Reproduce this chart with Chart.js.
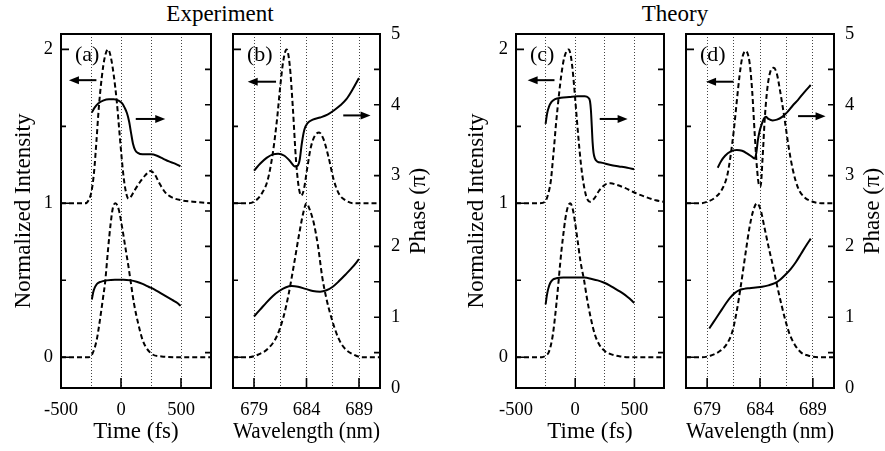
<!DOCTYPE html>
<html>
<head>
<meta charset="UTF-8">
<title>Experiment / Theory</title>
<script src="https://cdn.jsdelivr.net/npm/chart.js"></script>
<style>
  body { margin: 0; background: #fff; width: 885px; height: 451px; overflow: hidden; position: relative; font-family: "Liberation Serif", "Times New Roman", serif; }
  .head { position: absolute; top: 0; font-size: 23px; line-height: 28px; text-align: center; color: #000; }
  canvas { position: absolute; top: 0; }
</style>
</head>
<body>
<div class="head" style="left:0;width:440px">Experiment</div>
<div class="head" style="left:465px;width:420px">Theory</div>
<canvas id="pa" width="222" height="451" style="left:0px"></canvas>
<canvas id="pb" width="218" height="451" style="left:222px"></canvas>
<canvas id="pc" width="235" height="451" style="left:440px"></canvas>
<canvas id="pd" width="210" height="451" style="left:675px"></canvas>

<script>
// tick positions / labels
const timeGrid = [-500, -250, 0, 250, 500, 750];
const timeLabels = [-500, 0, 500];
const waveGrid = [677, 679, 681.5, 684, 686.5, 689, 691];
const waveLabels = [679, 684, 689];
const intensityTicks = [0, 0.5, 1, 1.5, 2];
const phaseTicks = [0, 0.5, 1, 1.5, 2, 2.5, 3, 3.5, 4, 4.5, 5];

// (a) experiment, time domain  [t (fs), value]
const expTimeIntUpper = [[-500,1.0],[-300,1.0],[-270,1.02],[-245,1.08],[-225,1.2],[-205,1.4],[-185,1.62],[-160,1.82],[-135,1.95],[-108,2.0],[-85,1.95],[-60,1.83],[-35,1.66],[-15,1.48],[5,1.3],[25,1.15],[45,1.06],[62,1.03],[80,1.04],[110,1.08],[160,1.14],[200,1.18],[245,1.21],[280,1.19],[320,1.13],[370,1.07],[420,1.04],[500,1.02],[600,1.01],[750,1.0]];
const expTimeIntLower = [[-500,0],[-270,0],[-243,0.015],[-203,0.11],[-176,0.24],[-149,0.39],[-132,0.49],[-108,0.7],[-86,0.87],[-68,0.97],[-46,1.0],[-19,0.96],[8,0.85],[35,0.72],[62,0.59],[81,0.49],[108,0.35],[143,0.22],[181,0.11],[243,0.03],[338,0.005],[500,0],[750,0]];
const expTimePhaseUpper = [[-243,3.89],[-220,3.96],[-190,4.02],[-150,4.06],[-100,4.08],[-60,4.08],[-20,4.06],[10,4.02],[30,3.96],[50,3.88],[68,3.76],[84,3.6],[100,3.45],[118,3.36],[140,3.32],[180,3.3],[250,3.3],[300,3.28],[350,3.24],[400,3.2],[450,3.17],[495,3.13]];
const expTimePhaseLower = [[-243,1.25],[-232,1.35],[-218,1.42],[-200,1.47],[-170,1.5],[-120,1.52],[-50,1.53],[20,1.53],[80,1.52],[130,1.5],[180,1.47],[230,1.43],[280,1.39],[330,1.34],[380,1.29],[430,1.24],[470,1.2],[497,1.16]];

// (b) experiment, spectral domain  [wavelength (nm), value]
const expWaveIntUpper = [[677,1.0],[678.5,1.0],[679.2,1.02],[679.8,1.07],[680.3,1.15],[680.8,1.33],[681.2,1.55],[681.5,1.76],[681.8,1.93],[682.1,2.0],[682.4,1.9],[682.7,1.62],[683.0,1.28],[683.25,1.11],[683.5,1.05],[683.75,1.09],[684.05,1.22],[684.4,1.36],[684.8,1.44],[685.2,1.46],[685.6,1.42],[686.1,1.3],[686.6,1.15],[687.1,1.06],[687.7,1.02],[688.5,1.0],[691,1.0]];
const expWaveIntLower = [[677,0],[678.5,0],[679.5,0.02],[680.4,0.06],[681.2,0.14],[681.8,0.26],[682.3,0.41],[682.8,0.6],[683.3,0.8],[683.7,0.94],[684.0,1.0],[684.3,0.96],[684.7,0.87],[685.1,0.72],[685.5,0.52],[685.9,0.38],[686.4,0.25],[687.0,0.13],[687.6,0.06],[688.4,0.02],[689.3,0],[691,0]];
const expWavePhaseUpper = [[679,3.07],[679.6,3.17],[680.2,3.25],[680.8,3.3],[681.3,3.31],[681.9,3.28],[682.4,3.21],[682.9,3.13],[683.15,3.14],[683.35,3.22],[683.55,3.45],[683.8,3.65],[684.1,3.74],[684.6,3.79],[685.3,3.82],[686.0,3.86],[686.6,3.92],[687.2,3.99],[687.8,4.08],[688.4,4.22],[689,4.38]];
const expWavePhaseLower = [[679,1.01],[679.6,1.11],[680.2,1.21],[680.8,1.3],[681.4,1.37],[682.0,1.42],[682.6,1.44],[683.2,1.43],[683.9,1.4],[684.6,1.37],[685.3,1.36],[685.9,1.38],[686.5,1.43],[687.1,1.51],[687.7,1.6],[688.4,1.71],[689,1.82]];

// (c) theory, time domain
const thTimeIntUpper = [[-500,1.0],[-300,1.0],[-255,1.01],[-225,1.07],[-205,1.15],[-190,1.27],[-177,1.38],[-164,1.5],[-150,1.61],[-135,1.72],[-118,1.83],[-100,1.92],[-78,1.98],[-55,2.0],[-40,1.97],[-25,1.89],[-10,1.77],[5,1.63],[20,1.49],[36,1.35],[52,1.23],[68,1.14],[85,1.07],[100,1.03],[125,1.01],[160,1.03],[200,1.08],[250,1.12],[300,1.13],[350,1.12],[420,1.1],[500,1.07],[600,1.04],[680,1.02],[750,1.01]];
const thTimeIntLower = [[-500,0],[-280,0],[-250,0.01],[-225,0.03],[-205,0.08],[-188,0.15],[-172,0.25],[-157,0.36],[-142,0.48],[-128,0.6],[-115,0.7],[-100,0.8],[-85,0.89],[-65,0.97],[-42,1.0],[-20,0.96],[0,0.87],[20,0.76],[45,0.62],[75,0.5],[100,0.38],[130,0.26],[165,0.15],[205,0.08],[250,0.04],[300,0.02],[380,0.005],[500,0],[750,0]];
const thTimePhaseUpper = [[-250,3.73],[-238,3.87],[-222,3.97],[-200,4.04],[-170,4.08],[-120,4.1],[-50,4.11],[20,4.12],[80,4.12],[110,4.1],[125,4.05],[133,3.92],[140,3.7],[147,3.47],[155,3.32],[167,3.24],[185,3.2],[230,3.18],[300,3.15],[370,3.13],[440,3.11],[497,3.09]];
const thTimePhaseLower = [[-250,1.18],[-240,1.3],[-228,1.4],[-212,1.48],[-190,1.53],[-160,1.55],[-100,1.56],[0,1.56],[80,1.56],[140,1.54],[190,1.52],[240,1.49],[290,1.45],[340,1.4],[390,1.35],[440,1.29],[475,1.24],[498,1.2]];

// (d) theory, spectral domain
const thWaveIntUpper = [[677,1.0],[678.3,1.0],[679,1.01],[679.8,1.04],[680.4,1.09],[680.9,1.18],[681.2,1.3],[681.5,1.46],[681.8,1.66],[682.05,1.82],[682.3,1.94],[682.65,1.99],[683.0,1.92],[683.25,1.74],[683.5,1.45],[683.7,1.24],[683.9,1.12],[684.05,1.11],[684.25,1.3],[684.45,1.55],[684.7,1.75],[685.0,1.86],[685.3,1.88],[685.6,1.84],[685.9,1.73],[686.3,1.56],[686.7,1.37],[687.1,1.22],[687.6,1.1],[688.2,1.04],[689.0,1.01],[690,1.0],[691,1.0]];
const thWaveIntLower = [[677,0],[678.5,0],[679.3,0.01],[680.2,0.04],[680.9,0.09],[681.4,0.17],[681.8,0.3],[682.2,0.47],[682.6,0.66],[683.0,0.84],[683.35,0.95],[683.7,1.0],[684.05,0.96],[684.4,0.85],[684.8,0.72],[685.2,0.6],[685.6,0.47],[686.0,0.35],[686.4,0.24],[686.8,0.15],[687.3,0.08],[687.9,0.03],[688.6,0.01],[689.5,0],[691,0]];
const thWavePhaseUpper = [[680,3.11],[680.3,3.2],[680.7,3.28],[681.2,3.34],[681.8,3.36],[682.3,3.35],[682.8,3.31],[683.2,3.27],[683.5,3.24],[683.65,3.32],[683.8,3.5],[683.95,3.62],[684.15,3.72],[684.35,3.8],[684.55,3.83],[684.8,3.8],[685.2,3.78],[685.6,3.79],[686.1,3.83],[686.6,3.9],[687.1,3.99],[687.6,4.07],[688.2,4.18],[688.8,4.28]];
const thWavePhaseLower = [[679.2,0.84],[679.6,0.93],[680.0,1.02],[680.4,1.11],[680.8,1.2],[681.2,1.28],[681.6,1.34],[682.0,1.38],[682.5,1.4],[683.0,1.41],[683.6,1.42],[684.2,1.43],[684.8,1.45],[685.4,1.48],[685.9,1.53],[686.4,1.6],[686.9,1.68],[687.4,1.78],[687.9,1.9],[688.4,2.02],[688.8,2.11]];

const SERIF = '"Liberation Serif", "Times New Roman", serif';
Chart.defaults.font.family = SERIF;
Chart.defaults.color = '#000';

function pts(arr) {
  return arr.map(p => ({x: p[0], y: p[1]}));
}

function curve(arr, axis, dashed) {
  return {
    data: pts(arr),
    yAxisID: axis,
    borderColor: '#000',
    borderWidth: 2,
    borderDash: dashed ? [5, 3] : [],
    pointRadius: 0,
    fill: false,
    cubicInterpolationMode: 'monotone'
  };
}

function panel(id, o) {
  // frame, inward ticks, arrows, panel tag, right-hand title
  const decor = {
    id: 'decor' + id,
    afterDatasetsDraw(chart) {
      const {ctx, chartArea: a, scales} = chart;
      ctx.save();
      ctx.strokeStyle = '#000';
      ctx.fillStyle = '#000';
      ctx.lineWidth = 2;
      ctx.strokeRect(a.left, a.top, a.right - a.left, a.bottom - a.top);

      ctx.lineWidth = 1.6;
      ctx.beginPath();
      scales.y.ticks.forEach(t => {
        const p = scales.y.getPixelForValue(t.value);
        const len = Number.isInteger(t.value) ? 8 : 5;
        ctx.moveTo(a.left, p); ctx.lineTo(a.left + len, p);
      });
      scales.y2.ticks.forEach(t => {
        if (t.value <= 0 || t.value >= 5) return;
        const p = scales.y2.getPixelForValue(t.value);
        ctx.moveTo(a.right, p); ctx.lineTo(a.right - 6, p);
      });
      scales.x.ticks.forEach(t => {
        if (!o.labels.includes(t.value) || t.value === o.xMin) return;
        const p = scales.x.getPixelForValue(t.value);
        ctx.moveTo(p, a.bottom); ctx.lineTo(p, a.bottom - 10);
      });
      ctx.stroke();

      // axis arrows
      o.arrows.forEach(ar => {
        const ys = scales[ar.axis];
        const x0 = scales.x.getPixelForValue(ar.from);
        const x1 = scales.x.getPixelForValue(ar.to);
        const y = ys.getPixelForValue(ar.at);
        const dir = Math.sign(x1 - x0);
        ctx.lineWidth = 2;
        ctx.beginPath();
        ctx.moveTo(x0, y); ctx.lineTo(x1 - dir * 8, y);
        ctx.stroke();
        ctx.beginPath();
        ctx.moveTo(x1, y);
        ctx.lineTo(x1 - dir * 10, y - 4);
        ctx.lineTo(x1 - dir * 10, y + 4);
        ctx.closePath();
        ctx.fill();
      });

      ctx.font = '22px ' + SERIF;
      ctx.textBaseline = 'middle';
      ctx.textAlign = 'left';
      ctx.fillText(o.tag, a.left + 14, a.top + 21);

      if (o.phaseTitle) {
        ctx.translate(a.right + 39, (a.top + a.bottom) / 2);
        ctx.rotate(-Math.PI / 2);
        ctx.textAlign = 'center';
        ctx.font = '23px ' + SERIF;
        ctx.fillText('Phase (\u03c0)', 0, 0);
      }
      ctx.restore();
    }
  };

  new Chart(document.getElementById(id), {
    type: 'line',
    data: {
      datasets: [
        curve(o.curves[0], 'y', true),
        curve(o.curves[1], 'y', true),
        curve(o.curves[2], 'y2', false),
        curve(o.curves[3], 'y2', false)
      ]
    },
    options: {
      responsive: false,
      animation: false,
      layout: {padding: {top: 34, left: 0, right: 0, bottom: 0}},
      plugins: {legend: {display: false}, tooltip: {enabled: false}},
      scales: {
        x: {
          type: 'linear',
          position: 'bottom',
          min: o.xMin,
          max: o.xMax,
          afterBuildTicks: s => { s.ticks = o.grid.map(v => ({value: v})); },
          afterFit: s => { s.height = 63; },
          ticks: {
            autoSkip: false,
            maxRotation: 0,
            padding: 11,
            font: {size: 18.5},
            callback: v => o.labels.includes(v) ? String(v) : ''
          },
          grid: {
            drawTicks: false,
            lineWidth: 1,
            color: c => (c.tick && (c.tick.value === o.xMin || c.tick.value === o.xMax)) ? 'rgba(0,0,0,0)' : '#444'
          },
          border: {display: false, dash: [1, 2]},
          title: {display: true, text: o.xTitle, font: {size: 23}, padding: {top: 0, bottom: 5}}
        },
        y: {
          type: 'linear',
          position: 'left',
          min: -0.2,
          max: 2.1,
          afterBuildTicks: s => { s.ticks = intensityTicks.map(v => ({value: v})); },
          afterFit: s => { s.width = o.leftW; },
          ticks: {
            padding: 8,
            font: {size: 18.5},
            callback: v => (o.intTitle && Number.isInteger(v)) ? String(v) : ''
          },
          grid: {display: false, drawTicks: false},
          border: {display: false},
          title: {display: o.intTitle, text: 'Normalized Intensity', font: {size: 23}, padding: {top: o.titlePad || 0}}
        },
        y2: {
          type: 'linear',
          position: 'right',
          min: 0,
          max: 5,
          afterBuildTicks: s => { s.ticks = phaseTicks.map(v => ({value: v})); },
          afterFit: s => { s.width = o.rightW; },
          ticks: {
            padding: 11,
            font: {size: 18.5},
            callback: v => (o.phaseTitle && Number.isInteger(v)) ? String(v) : ''
          },
          grid: {display: false, drawTicks: false},
          border: {display: false}
        }
      }
    },
    plugins: [decor]
  });
}

panel('pa', {
  tag: '(a)', leftW: 61, rightW: 8, titlePad: 10,
  xMin: -500, xMax: 750, grid: timeGrid, labels: timeLabels, xTitle: 'Time (fs)',
  intTitle: true, phaseTitle: false,
  curves: [expTimeIntUpper, expTimeIntLower, expTimePhaseUpper, expTimePhaseLower],
  arrows: [{axis: 'y', from: -205, to: -434, at: 1.8}, {axis: 'y2', from: 123, to: 369, at: 3.8}]
});
panel('pb', {
  tag: '(b)', leftW: 3, rightW: 60,
  xMin: 677, xMax: 691, grid: waveGrid, labels: waveLabels, xTitle: 'Wavelength (nm)',
  intTitle: false, phaseTitle: true,
  curves: [expWaveIntUpper, expWaveIntLower, expWavePhaseUpper, expWavePhaseLower],
  arrows: [{axis: 'y', from: 681.1, to: 678.4, at: 1.79}, {axis: 'y2', from: 687.5, to: 690.1, at: 3.85}]
});
panel('pc', {
  tag: '(c)', leftW: 76, rightW: 5, titlePad: 23,
  xMin: -500, xMax: 750, grid: timeGrid, labels: timeLabels, xTitle: 'Time (fs)',
  intTitle: true, phaseTitle: false,
  curves: [thTimeIntUpper, thTimeIntLower, thTimePhaseUpper, thTimePhaseLower],
  arrows: [{axis: 'y', from: -175, to: -402, at: 1.8}, {axis: 'y2', from: 207, to: 443, at: 3.8}]
});
panel('pd', {
  tag: '(d)', leftW: 5, rightW: 51,
  xMin: 677, xMax: 691, grid: waveGrid, labels: waveLabels, xTitle: 'Wavelength (nm)',
  intTitle: false, phaseTitle: true,
  curves: [thWaveIntUpper, thWaveIntLower, thWavePhaseUpper, thWavePhaseLower],
  arrows: [{axis: 'y', from: 681.5, to: 678.9, at: 1.79}, {axis: 'y2', from: 687.6, to: 690.2, at: 3.84}]
});
</script>
</body>
</html>
